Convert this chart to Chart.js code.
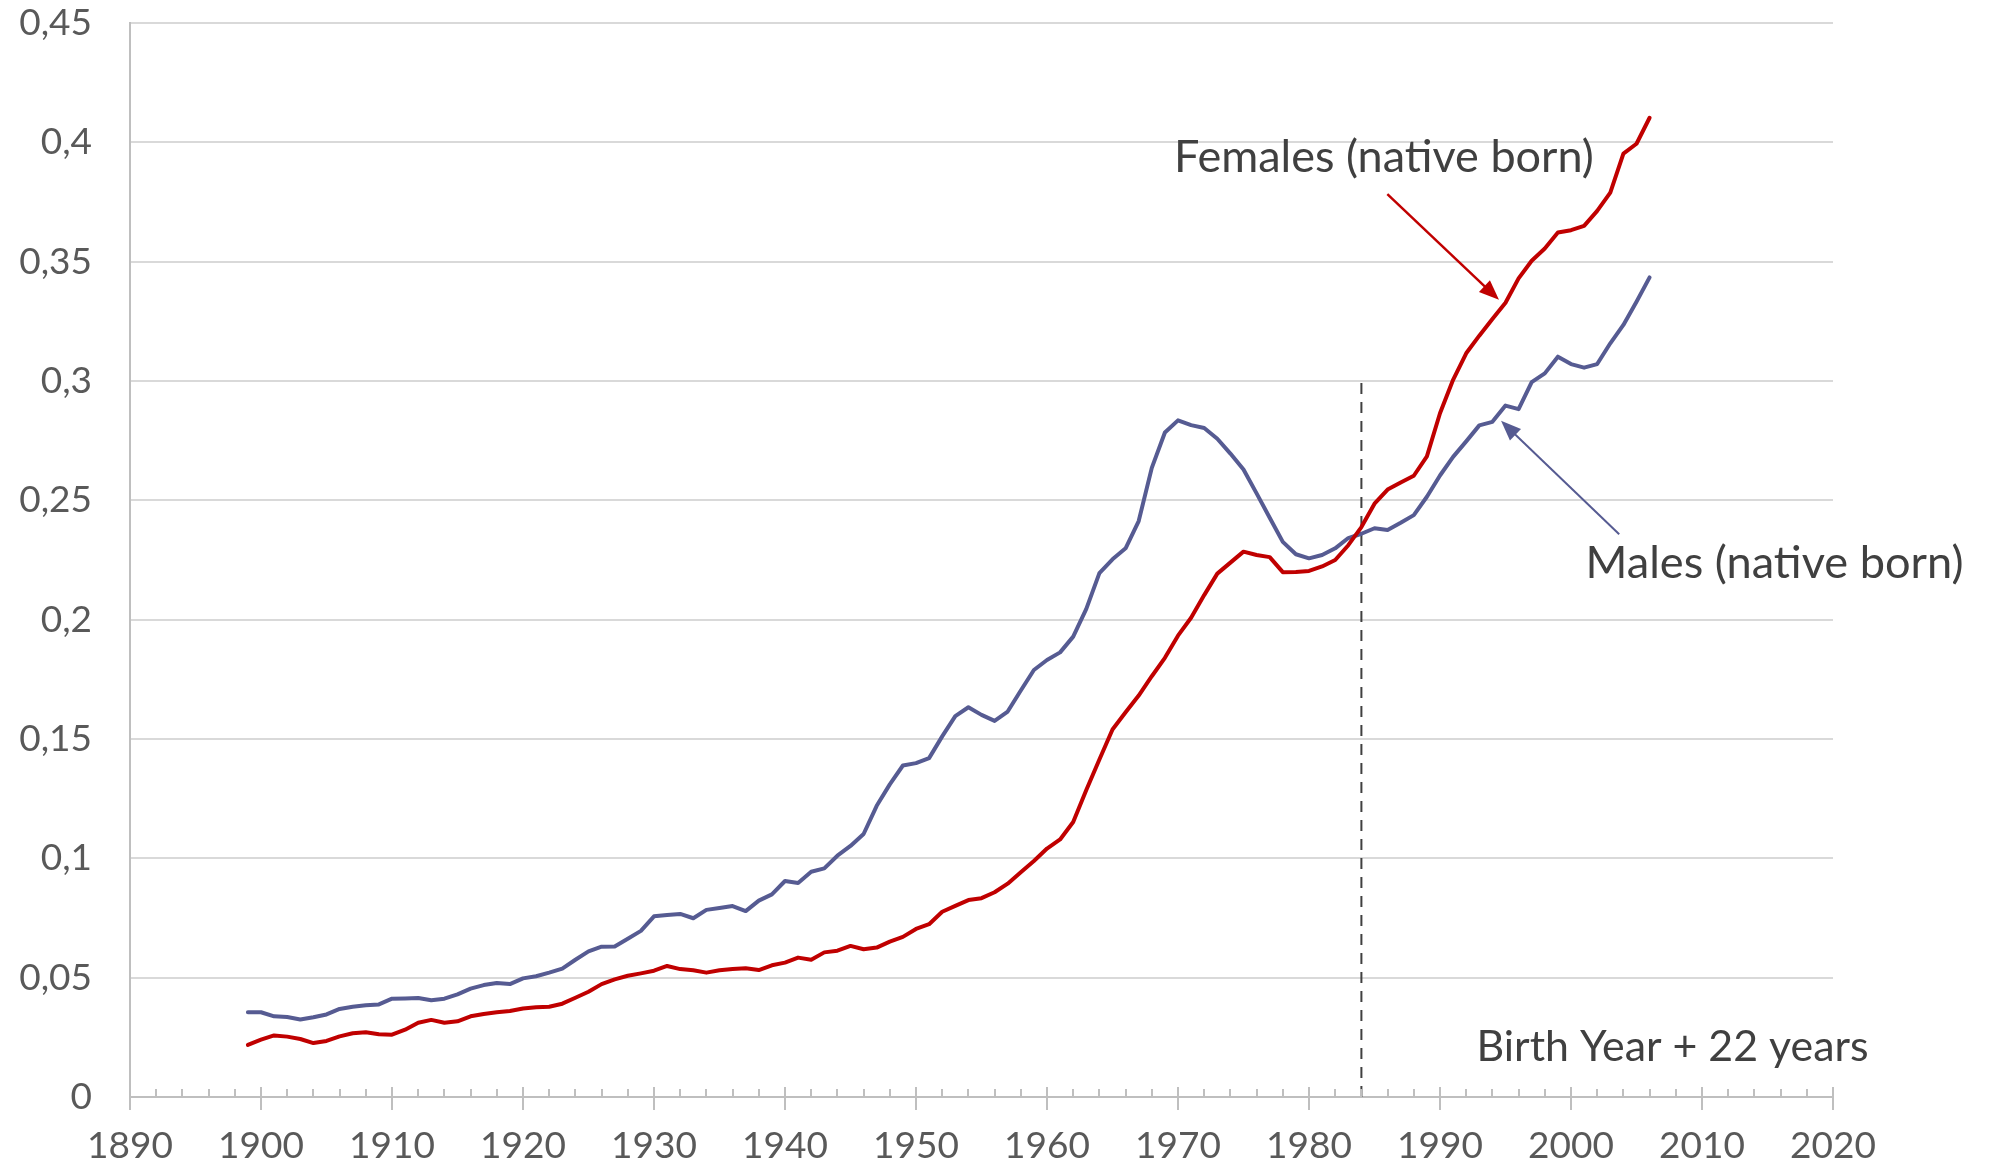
<!DOCTYPE html>
<html>
<head>
<meta charset="utf-8">
<script src="https://cdn.jsdelivr.net/npm/chart.js@4.4.1/dist/chart.umd.min.js"></script>
<style>
  html, body { margin: 0; padding: 0; background: #ffffff; }
  #wrap { width: 1996px; height: 1166px; position: relative; }
  canvas { display: block; }
</style>
</head>
<body>
<div id="wrap"><canvas id="c" width="1996" height="1166"></canvas></div>
<script>
// ---------- DATA ----------
const firstYear = 1899;
const lastYear = 2006;
const years = [];
for (let y = firstYear; y <= lastYear; y++) years.push(y);

const females = [
  0.0218,
  0.0240, 0.0258, 0.0253, 0.0243, 0.0226, 0.0235, 0.0254, 0.0267, 0.0271, 0.0263,
  0.0261, 0.0282, 0.0311, 0.0323, 0.0311, 0.0317, 0.0338, 0.0348, 0.0355, 0.0360,
  0.0371, 0.0376, 0.0378, 0.0391, 0.0416, 0.0441, 0.0473, 0.0493, 0.0508, 0.0518,
  0.0529, 0.0549, 0.0536, 0.0531, 0.0521, 0.0531, 0.0536, 0.0539, 0.0532, 0.0552,
  0.0563, 0.0584, 0.0575, 0.0606, 0.0613, 0.0633, 0.0619, 0.0626, 0.0651, 0.0671,
  0.0704, 0.0724, 0.0776, 0.0801, 0.0825, 0.0833, 0.0858, 0.0894, 0.0942, 0.0989,
  0.1041, 0.1079, 0.1152, 0.1286, 0.1414, 0.1540, 0.1612, 0.1682, 0.1763, 0.1840,
  0.1933, 0.2008, 0.2103, 0.2193, 0.2239, 0.2285, 0.2271, 0.2262, 0.2199, 0.2200,
  0.2204, 0.2223, 0.2250, 0.2312, 0.2388, 0.2486, 0.2545, 0.2575, 0.2603, 0.2684,
  0.2865, 0.3005, 0.3116, 0.3190, 0.3260, 0.3328, 0.3430, 0.3504, 0.3555, 0.3622,
  0.3632, 0.3650, 0.3713, 0.3789, 0.3953, 0.3994, 0.4103
];

const males = [
  0.0355,
  0.0355, 0.0338, 0.0335, 0.0325, 0.0334, 0.0346, 0.0369, 0.0378, 0.0384, 0.0388,
  0.0412, 0.0413, 0.0415, 0.0405, 0.0412, 0.0430, 0.0454, 0.0469, 0.0478, 0.0473,
  0.0497, 0.0506, 0.0521, 0.0538, 0.0575, 0.0610, 0.0630, 0.0631, 0.0663, 0.0696,
  0.0757, 0.0763, 0.0767, 0.0749, 0.0784, 0.0792, 0.0800, 0.0779, 0.0823, 0.0849,
  0.0905, 0.0897, 0.0944, 0.0958, 0.1011, 0.1052, 0.1102, 0.1220, 0.1310, 0.1389,
  0.1399, 0.1420, 0.1511, 0.1596, 0.1633, 0.1601, 0.1576, 0.1615, 0.1703, 0.1789,
  0.1831, 0.1863, 0.1929, 0.2045, 0.2195, 0.2253, 0.2299, 0.2413, 0.2636, 0.2784,
  0.2835, 0.2815, 0.2803, 0.2758, 0.2696, 0.2629, 0.2529, 0.2427, 0.2326, 0.2274,
  0.2257, 0.2271, 0.2299, 0.2342, 0.2360, 0.2383, 0.2376, 0.2406, 0.2438, 0.2515,
  0.2604, 0.2682, 0.2747, 0.2814, 0.2829, 0.2897, 0.2882, 0.2995, 0.3032, 0.3102,
  0.3071, 0.3056, 0.3071, 0.3158, 0.3235, 0.3332, 0.3434
];

const xTickLabels = ['1890','1900','1910','1920','1930','1940','1950','1960','1970','1980','1990','2000','2010','2020'];
const yTickLabels = ['0','0,05','0,1','0,15','0,2','0,25','0,3','0,35','0,4','0,45'];

const seriesNames = ['Females (native born)', 'Males (native born)'];
const noteText = 'Birth Year + 22 years';
const cutoffYear = 1984;
const cutoffTop = 0.3;

// ---------- STYLE / LAYOUT ----------
const RED = '#c00000';
const BLUE = '#565b92';
const TEXT = '#404040';
const TICK = '#595959';
const AXIS = '#bfbfbf';
const GRID = '#d9d9d9';

const annotationPlugin = {
  id: 'annotations',
  afterDraw(chart) {
    const ctx = chart.ctx;
    const xs = chart.scales.x, ys = chart.scales.y;
    const px = v => xs.getPixelForValue(v);
    const py = v => ys.getPixelForValue(v);

    // x-axis tick marks (major crossing, minor inside)
    ctx.save();
    ctx.strokeStyle = AXIS;
    ctx.lineWidth = 2;
    const yb = ys.getPixelForValue(0);
    for (let v = xs.min; v <= xs.max; v += 2) {
      const x = Math.round(px(v));
      ctx.beginPath();
      if ((v - xs.min) % 10 === 0) {
        ctx.moveTo(x, yb - 10); ctx.lineTo(x, yb + 13);
      } else {
        ctx.moveTo(x, yb - 8); ctx.lineTo(x, yb);
      }
      ctx.stroke();
    }
    ctx.restore();

    // arrows
    function arrow(x1, y1, x2, y2, color, width, headLen, headHalf) {
      const a = Math.atan2(y2 - y1, x2 - x1);
      ctx.save();
      ctx.strokeStyle = color;
      ctx.fillStyle = color;
      ctx.lineWidth = width;
      ctx.beginPath();
      ctx.moveTo(x1, y1);
      ctx.lineTo(x2 - Math.cos(a) * headLen * 0.8, y2 - Math.sin(a) * headLen * 0.8);
      ctx.stroke();
      ctx.beginPath();
      ctx.moveTo(x2, y2);
      ctx.lineTo(x2 - Math.cos(a) * headLen - Math.sin(a) * headHalf, y2 - Math.sin(a) * headLen + Math.cos(a) * headHalf);
      ctx.lineTo(x2 - Math.cos(a) * headLen + Math.sin(a) * headHalf, y2 - Math.sin(a) * headLen - Math.cos(a) * headHalf);
      ctx.closePath();
      ctx.fill();
      ctx.restore();
    }
    arrow(px(1985.98), py(0.3783), px(1994.5), py(0.334), RED, 2.5, 20, 8);
    arrow(px(2003.68), py(0.2358), px(1994.66), py(0.2833), BLUE, 2, 20, 8);

    // texts (fitted to the reference width)
    function text(str, xv, yv, targetW) {
      ctx.save();
      ctx.font = '100px Lato';
      const w = ctx.measureText(str).width;
      const size = 100 * targetW / w;
      ctx.font = size.toFixed(2) + 'px Lato';
      ctx.fillStyle = TEXT;
      ctx.textAlign = 'left';
      ctx.textBaseline = 'alphabetic';
      ctx.fillText(str, px(xv), py(yv));
      ctx.restore();
    }
    text(seriesNames[0], 1969.69, 0.3877, 420);
    text(seriesNames[1], 2001.11, 0.2173, 378);
    text(noteText, 1992.79, 0.0151, 392);
  }
};

const ctx = document.getElementById('c').getContext('2d');
new Chart(ctx, {
  type: 'line',
  data: {
    datasets: [
      {
        label: seriesNames[0],
        data: years.map((y, i) => ({ x: y, y: females[i] })),
        borderColor: RED,
        borderWidth: 4,
        pointRadius: 0,
        tension: 0,
        borderJoinStyle: 'round',
        borderCapStyle: 'round',
        fill: false
      },
      {
        label: seriesNames[1],
        data: years.map((y, i) => ({ x: y, y: males[i] })),
        borderColor: BLUE,
        borderWidth: 4,
        pointRadius: 0,
        tension: 0,
        borderJoinStyle: 'round',
        borderCapStyle: 'round',
        fill: false
      },
      {
        label: 'cutoff',
        data: [{ x: cutoffYear, y: 0 }, { x: cutoffYear, y: cutoffTop }],
        borderColor: TEXT,
        borderWidth: 2,
        borderDash: [11, 8],
        pointRadius: 0,
        fill: false
      }
    ]
  },
  options: {
    responsive: false,
    animation: false,
    events: [],
    layout: { padding: { top: 23, right: 163, left: 0, bottom: 0 } },
    plugins: {
      legend: { display: false },
      tooltip: { enabled: false },
      title: { display: false }
    },
    scales: {
      x: {
        type: 'linear',
        min: 1890,
        max: 2020,
        afterFit: s => { s.height = 69; s.paddingLeft = 0; s.paddingRight = 0; },
        ticks: {
          stepSize: 10,
          autoSkip: false,
          maxRotation: 0,
          padding: 27,
          color: TICK,
          font: { family: 'Lato', size: 37, lineHeight: 1.2 },
          callback: (v, i) => xTickLabels[i]
        },
        grid: { display: true, drawOnChartArea: false, drawTicks: false },
        border: { display: true, color: AXIS, width: 2 }
      },
      y: {
        min: 0,
        max: 0.45,
        afterFit: s => { s.width = 130; s.paddingTop = 0; s.paddingBottom = 0; },
        ticks: {
          stepSize: 0.05,
          padding: 38,
          color: TICK,
          font: { family: 'Lato', size: 37 },
          callback: (v, i) => yTickLabels[i]
        },
        grid: { color: GRID, lineWidth: 2, drawTicks: false },
        border: { display: true, color: AXIS, width: 2 }
      }
    }
  },
  plugins: [annotationPlugin]
});
</script>
</body>
</html>
